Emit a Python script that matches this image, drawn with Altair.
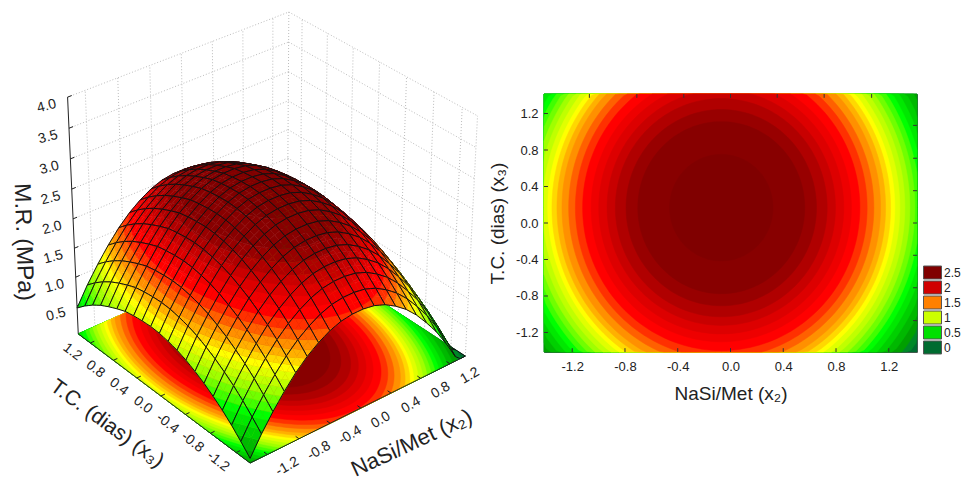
import numpy as np
import pandas as pd
import altair as alt

alt.data_transformers.disable_max_rows()

# ---- values -----------------------------------------------------------
# contour bands: semi-axis along x2 of each band, from the outside in, with its colour
band_radius = [9.0, 1.780, 1.734, 1.684, 1.633, 1.587, 1.544, 1.506, 1.468, 1.430, 1.392, 1.354,
               1.316, 1.284, 1.246, 1.208, 1.157, 1.106, 1.051, 0.987, 0.929, 0.866, 0.803, 0.722,
               0.633, 0.392]
band_level = [-9.0, -0.07, 0.08, 0.23, 0.38, 0.51, 0.63, 0.73, 0.835, 0.93, 1.03, 1.12,
              1.21, 1.29, 1.37, 1.46, 1.56, 1.665, 1.77, 1.89, 1.99, 2.09, 2.18, 2.29,
              2.40, 2.62]
band_color = ["#006b30", "#008828", "#00a000", "#00b800", "#00d000", "#00e800", "#00ff00", "#40ff00",
              "#70ff00", "#a0ff00", "#c0ff00", "#e0ff00", "#ffff00", "#ffd800", "#ffb000", "#ff9000",
              "#ff6000", "#ff3000", "#ff0000", "#ee0000", "#dd0000", "#c80000", "#b00000", "#980000",
              "#880000", "#800000"]
centre_x2 = -0.07
centre_x3 = 0.168
axis_ratio = 1.49

# surface heights at the mesh nodes along the ridge in each direction
mesh_nodes = [-1.414, -1.273, -1.131, -0.990, -0.849, -0.707, -0.566, -0.424, -0.283, -0.141, 0.0,
              0.141, 0.283, 0.424, 0.566, 0.707, 0.849, 0.990, 1.131, 1.273, 1.414]
ridge_x2 = [1.15, 1.47, 1.75, 2.00, 2.22, 2.40, 2.54, 2.65, 2.72, 2.75, 2.75,
            2.72, 2.65, 2.54, 2.40, 2.22, 2.00, 1.76, 1.47, 1.15, 0.79]
ridge_x3 = [1.75, 1.92, 2.08, 2.22, 2.34, 2.45, 2.54, 2.62, 2.68, 2.72, 2.75,
            2.76, 2.75, 2.73, 2.70, 2.64, 2.57, 2.49, 2.39, 2.27, 2.13]
peak = 2.76
surface_drop = 0.06

ticks = [-1.2, -0.8, -0.4, 0.0, 0.4, 0.8, 1.2]
second_ticks = [-1.07, -0.71, -0.354, 0.0, 0.354, 0.71, 1.07]
z_ticks = [0.5, 1.0, 1.5, 2.0, 2.5, 3.0, 3.5, 4.0]
legend_labels = ["2.5", "2", "1.5", "1", "0.5", "0"]
legend_colors = ["#800000", "#d00000", "#ff8000", "#ccff00", "#00e000", "#006b30"]
E = 1.414

# ---- camera of the 3D box: box corners and where they land on the page --
box = [(-E, -E, 0), (-E, E, 0), (E, -E, 0), (E, E, 0), (-E, E, 4), (E, E, 4), (E, -E, 4)]
page = [(250, 463), (78, 334), (465, 356), (288, 241), (68, 97), (288, 12), (478, 116)]
A, b = [], []
for (X, Y, Z), (u, v) in zip(box, page):
    A.append([X, Y, Z, 1, 0, 0, 0, 0, -u * X, -u * Y, -u * Z]); b.append(u)
    A.append([0, 0, 0, 0, X, Y, Z, 1, -v * X, -v * Y, -v * Z]); b.append(v)
p = np.linalg.lstsq(np.array(A, float), np.array(b, float), rcond=None)[0]
P = np.append(p, 1.0).reshape(3, 4)


def project(x2, x3, z):
    h = P @ np.array([x2, x3, z, 1.0])
    return h[0] / h[2], h[1] / h[2]


def height(x2, x3):
    return float(np.interp(x2, mesh_nodes, ridge_x2) + np.interp(x3, mesh_nodes, ridge_x3) - peak)


def ring(r):
    t = np.linspace(0, 2 * np.pi, 181)[:-1]
    xs = np.clip(centre_x2 + r * np.cos(t), -E, E)
    ys = np.clip(centre_x3 + axis_ratio * r * np.sin(t), -E, E)
    return xs, ys


def clip(poly, lev, above):
    """Keep the part of a polygon (x2, x3, z) on one side of a height."""
    out = []
    for i, a in enumerate(poly):
        c = poly[(i + 1) % len(poly)]
        ina = a[2] >= lev if above else a[2] <= lev
        inc = c[2] >= lev if above else c[2] <= lev
        if ina:
            out.append(a)
        if ina != inc:
            t = (lev - a[2]) / (c[2] - a[2])
            out.append((a[0] + t * (c[0] - a[0]), a[1] + t * (c[1] - a[1]), lev))
    return out


# ---- right panel: bands in data units -----------------------------------
rows = []
for k, (r, c) in enumerate(zip(band_radius, band_color)):
    xs, ys = ring(r)
    for o, (a, d) in enumerate(zip(xs, ys)):
        rows.append(dict(g=k, o=o, x=float(a), y=float(d), c=c))
rings = pd.DataFrame(rows)

# ---- left panel ---------------------------------------------------------
rows = []
gid = 0
for k, (r, c) in enumerate(zip(band_radius, band_color)):
    xs, ys = ring(r)
    for o, (a, d) in enumerate(zip(xs, ys)):
        u, v = project(a, d, 0.0)
        rows.append(dict(g=k, o=o, u=u, v=v, c=c))
floor = pd.DataFrame(rows)

rows = []
SUB = 2


def add_poly(corners, fill, stroke, sw):
    global gid
    for o, (a, d, z) in enumerate(corners):
        u, v = project(a, d, max(0.0, z - surface_drop))
        rows.append(dict(g=gid, o=o, u=round(u, 2), v=round(v, 2), f=fill, s=stroke, w=sw))
    gid += 1


n = len(mesh_nodes) - 1
cells = sorted(((i, j) for i in range(n) for j in range(n)), key=lambda c: -(c[0] + c[1]))
uppers = band_level[1:] + [99.0]
for i, j in cells:
    x0, x1 = mesh_nodes[i], mesh_nodes[i + 1]
    y0, y1 = mesh_nodes[j], mesh_nodes[j + 1]
    xe = np.linspace(x0, x1, SUB + 1)
    ye = np.linspace(y0, y1, SUB + 1)
    for si in range(SUB - 1, -1, -1):
        for sj in range(SUB - 1, -1, -1):
            quad = [(float(xe[si + s]), float(ye[sj + t]), height(xe[si + s], ye[sj + t]))
                    for s, t in ((0, 0), (1, 0), (1, 1), (0, 1))]
            for lo, hi, col in zip(band_level, uppers, band_color):
                piece = clip(quad, lo, True)
                if piece:
                    piece = clip(piece, hi, False)
                if len(piece) >= 3:
                    add_poly(piece, col, col, 0.5)
    outline = [(a, y0) for a in xe] + [(x1, d) for d in ye[1:]] + [(a, y1) for a in xe[::-1][1:]] + \
              [(x0, d) for d in ye[::-1][1:-1]]
    add_poly([(float(a), float(d), height(a, d)) for a, d in outline], "transparent", "#111111", 1.0)
surface = pd.DataFrame(rows)

# walls
rows = []
k = 0
for z in [0.0] + z_ticks:
    for a, d in ((-E, E), (E, E)):
        u, v = project(a, d, z)
        rows.append(dict(g=k, o=0 if a < 0 else 1, u=u, v=v))
    k += 1
    for a, d in ((E, E), (E, -E)):
        u, v = project(a, d, z)
        rows.append(dict(g=k, o=0 if d > 0 else 1, u=u, v=v))
    k += 1
for t in ticks + [E]:
    for o, z in enumerate((0.0, 4.0)):
        u, v = project(t, E, z)
        rows.append(dict(g=k, o=o, u=u, v=v))
    k += 1
for t in ticks + [-E]:
    for o, z in enumerate((0.0, 4.0)):
        u, v = project(E, t, z)
        rows.append(dict(g=k, o=o, u=u, v=v))
    k += 1
walls = pd.DataFrame(rows)

# black axis lines and tick marks
rows = []
k = 0


def seg(a, b_):
    global k
    for o, q in enumerate((a, b_)):
        u, v = project(*q)
        rows.append(dict(g=k, o=o, u=u, v=v))
    k += 1


seg((-E, E, 0), (-E, E, 4))
seg((-E, E, 0), (-E, -E, 0))
seg((-E, -E, 0), (E, -E, 0))
for z in z_ticks:
    seg((-E, E, z), (-E + 0.05, E, z))
for t in ticks:
    seg((-E, t, 0), (-E + 0.05, t, 0))
    seg((t, -E, 0), (t, -E + 0.05, 0))
axes3d = pd.DataFrame(rows)


def fmt(v):
    return f"{v:.1f}"


def tick_table(points, texts, dx, dy):
    out = []
    for q, t in zip(points, texts):
        u, v = project(*q)
        out.append(dict(u=u + dx, v=v + dy, t=t))
    return pd.DataFrame(out)


zlab = tick_table([(-E, E, z) for z in z_ticks], [fmt(z) for z in z_ticks], -21, 9)
x3lab = tick_table([(-E, t, 0) for t in ticks], [fmt(t) for t in ticks], -18, 9)
x2lab = tick_table([(t, -E, 0) for t in ticks], [fmt(t) for t in ticks], 20, 12)

PW, PH = 480, 470
X0, Y0 = 8, 8
XU = alt.X("u:Q", scale=alt.Scale(domain=[X0, X0 + PW], nice=False, zero=False), axis=None)
YV = alt.Y("v:Q", scale=alt.Scale(domain=[Y0 + PH, Y0], nice=False, zero=False), axis=None)
FONT = "Liberation Sans"

wall_layer = alt.Chart(walls).mark_line(color="#bcbcbc", strokeWidth=1, strokeDash=[1, 2]).encode(
    x=XU, y=YV, detail="g:N", order="o:Q")
floor_layer = alt.Chart(floor).mark_line(interpolate="linear-closed", strokeWidth=0.5).encode(
    x=XU, y=YV, detail="g:N", order="o:Q",
    fill=alt.Fill("c:N", scale=None), stroke=alt.Stroke("c:N", scale=None))
surface_layer = alt.Chart(surface).mark_line(interpolate="linear-closed").encode(
    x=XU, y=YV, detail="g:N", order="o:Q",
    fill=alt.Fill("f:N", scale=None), stroke=alt.Stroke("s:N", scale=None),
    strokeWidth=alt.StrokeWidth("w:Q", scale=None))
axis_layer = alt.Chart(axes3d).mark_line(color="#222222", strokeWidth=1).encode(
    x=XU, y=YV, detail="g:N", order="o:Q")


def labels(data, angle, size=14):
    return alt.Chart(data).mark_text(angle=angle, font=FONT, fontSize=size, color="#222222").encode(
        x=XU, y=YV, text="t:N")


left = alt.layer(
    wall_layer, floor_layer, axis_layer, surface_layer,
    labels(zlab, 345),
    labels(x3lab, 38),
    labels(x2lab, 330),
    labels(tick_table([(-E, E, 2.5)], ["M.R. (MPa)"], -48, 53), 88, 23),
    labels(tick_table([(-E, 0, 0)], ["T.C. (dias) (x₃)"], -54, 28), 36, 21),
    labels(tick_table([(0, -E, 0)], ["NaSi/Met (x₂)"], 51, 35), 335, 22),
).properties(width=PW, height=PH)

# ---- right panel -----------------------------------------------------------
dom = [-E, E]
RX = alt.X("x:Q", scale=alt.Scale(domain=dom, nice=False, zero=False),
           axis=alt.Axis(values=ticks, labelExpr="replace(format(datum.value,'.1f'),'\u2212','-')",
                         title="NaSi/Met (x₂)", titleFont=FONT, titleFontSize=19, titleFontWeight="normal",
                         titleColor="#222222", labelFont=FONT, labelFontSize=13, labelColor="#222222",
                         ticks=False, domain=False, grid=False, labelPadding=8, titlePadding=11))
RY = alt.Y("y:Q", scale=alt.Scale(domain=dom, nice=False, zero=False),
           axis=alt.Axis(values=ticks, labelExpr="replace(format(datum.value,'.1f'),'\u2212','-')",
                         title="T.C. (dias) (x₃)", titleFont=FONT, titleFontSize=19, titleFontWeight="normal",
                         titleColor="#222222", labelFont=FONT, labelFontSize=13, labelColor="#222222",
                         ticks=False, domain=False, grid=False, labelPadding=6, titlePadding=8))

legend_df = pd.DataFrame(dict(x=[0.0] * 6, y=[0.0] * 6, level=legend_labels))
legend_layer = alt.Chart(legend_df).mark_point(filled=True, size=1).encode(
    x=RX, y=RY,
    color=alt.Color("level:N", sort=legend_labels,
                    scale=alt.Scale(domain=legend_labels, range=legend_colors),
                    legend=alt.Legend(orient="none", legendX=918, legendY=258, title=None,
                                      symbolType="M-1.5,-1.08H1.5V1.08H-1.5Z", symbolSize=144,
                                      symbolStrokeColor="#555555", symbolStrokeWidth=1, symbolOpacity=1,
                                      rowPadding=-2, labelFont=FONT, labelFontSize=12, labelColor="#222222",
                                      labelOffset=5)))
ring_layer = alt.Chart(rings).mark_line(interpolate="linear-closed", strokeWidth=0.5).encode(
    x=RX, y=RY, detail="g:N", order="o:Q",
    fill=alt.Fill("c:N", scale=None), stroke=alt.Stroke("c:N", scale=None))

m = 0.03
bx = pd.DataFrame(dict(x=ticks, y=[-E] * 7, y2=[-E + m * 1.4] * 7))
by = pd.DataFrame(dict(y=ticks, x=[-E] * 7, x2=[-E + m] * 7))
tx = pd.DataFrame(dict(x=second_ticks, y=[E] * 7, y2=[E - m * 1.4] * 7))
ty = pd.DataFrame(dict(y=second_ticks, x=[E] * 7, x2=[E - m] * 7))
TICKC = "#333333"
tick_layers = [
    alt.Chart(bx).mark_rule(color=TICKC).encode(x=RX, y=RY, y2="y2:Q"),
    alt.Chart(tx).mark_rule(color=TICKC).encode(x=RX, y=RY, y2="y2:Q"),
    alt.Chart(by).mark_rule(color=TICKC).encode(x=RX, y=RY, x2="x2:Q"),
    alt.Chart(ty).mark_rule(color=TICKC).encode(x=RX, y=RY, x2="x2:Q"),
]
right = alt.layer(legend_layer, ring_layer, *tick_layers).properties(
    width=373, height=258, view=alt.ViewConfig(stroke="#555555"))

spacer = alt.Chart(pd.DataFrame(dict(x=[0]))).mark_text(text="", opacity=0).encode(
    x=alt.value(5), y=alt.value(40)).properties(width=10, height=84)

chart = alt.hconcat(left, alt.vconcat(spacer, right, spacing=0), spacing=0).properties(padding=0).configure_view(stroke=None)

chart.save("out.html", embed_options={"renderer": "svg", "actions": False})
